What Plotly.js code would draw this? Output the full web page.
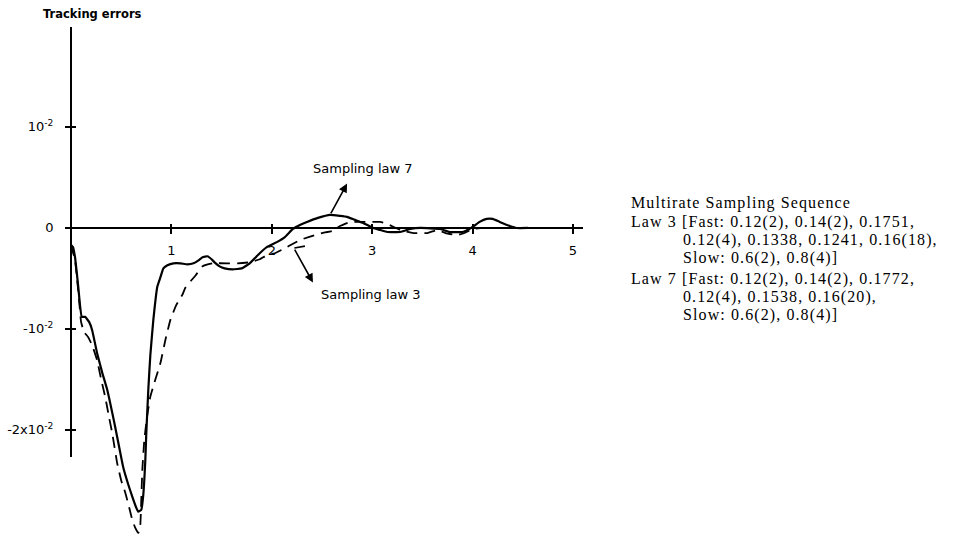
<!DOCTYPE html>
<html>
<head>
<meta charset="utf-8">
<script src="https://cdn.plot.ly/plotly-3.0.1.min.js"></script>
<style>
  html, body { margin: 0; padding: 0; background: #fff; }
  #chart { width: 954px; height: 537px; }
  .annotation-text[style*="Liberation Serif"] { letter-spacing: 1.1px; }
</style>
</head>
<body>
<div id="chart"></div>
<script>
// ---- Data ----
// Sampling law 7 (solid line): time, tracking error
const law7Time = [0, 0.02, 0.04, 0.07, 0.107, 0.14, 0.18, 0.21, 0.26, 0.31, 0.36, 0.44, 0.52, 0.57, 0.61, 0.65, 0.67, 0.70, 0.72, 0.74, 0.75, 0.77, 0.79, 0.82, 0.86, 0.89, 0.92, 0.96, 1.02, 1.09, 1.16, 1.22, 1.27, 1.31, 1.36, 1.40, 1.43, 1.48, 1.53, 1.61, 1.70, 1.78, 1.83, 1.88, 1.95, 2.05, 2.13, 2.21, 2.28, 2.35, 2.46, 2.58, 2.68, 2.75, 2.83, 2.91, 3.01, 3.08, 3.15, 3.28, 3.38, 3.48, 3.68, 3.77, 3.90, 4.00, 4.07, 4.14, 4.20, 4.27, 4.37, 4.44, 4.55];
const law7Error = [-0.0017, -0.0019, -0.0029, -0.0056, -0.0088, -0.0088, -0.0093, -0.0101, -0.0124, -0.0143, -0.0160, -0.0197, -0.0237, -0.0254, -0.0266, -0.0277, -0.0281, -0.0279, -0.0264, -0.0230, -0.0203, -0.0160, -0.0126, -0.0091, -0.0058, -0.0049, -0.0040, -0.0037, -0.0035, -0.0035, -0.0036, -0.0035, -0.0032, -0.0029, -0.0028, -0.0031, -0.0034, -0.0038, -0.0040, -0.0041, -0.0040, -0.0035, -0.0030, -0.0025, -0.0019, -0.0014, -0.0009, -0.0001, 0.0003, 0.0006, 0.0010, 0.0013, 0.0012, 0.0011, 0.0008, 0.0005, 0.0000, -0.0002, -0.0004, -0.0004, -0.0001, 0.0000, -0.0001, -0.0004, -0.0004, 0.0001, 0.0006, 0.0009, 0.0009, 0.0006, 0.0002, 0.0000, 0.0000];

// Sampling law 3 (dashed line): time, tracking error
const law3Time = [0, 0.04, 0.08, 0.10, 0.13, 0.17, 0.21, 0.26, 0.30, 0.34, 0.38, 0.41, 0.46, 0.50, 0.54, 0.58, 0.61, 0.64, 0.67, 0.69, 0.70, 0.71, 0.73, 0.76, 0.79, 0.84, 0.89, 0.94, 0.99, 1.05, 1.11, 1.14, 1.24, 1.31, 1.41, 1.56, 1.66, 1.78, 1.88, 1.95, 2.03, 2.13, 2.28, 2.43, 2.50, 2.60, 2.68, 2.78, 2.85, 3.01, 3.08, 3.15, 3.28, 3.41, 3.55, 3.65, 3.73, 3.85, 3.92, 4.00, 4.12, 4.47];
const law3Error = [-0.0017, -0.0032, -0.0071, -0.0093, -0.0103, -0.0108, -0.0116, -0.0131, -0.0150, -0.0167, -0.0188, -0.0203, -0.0233, -0.0250, -0.0262, -0.0277, -0.0289, -0.0297, -0.0302, -0.0294, -0.0269, -0.0240, -0.0210, -0.0185, -0.0167, -0.0150, -0.0134, -0.0111, -0.0091, -0.0076, -0.0066, -0.0059, -0.0047, -0.0038, -0.0035, -0.0035, -0.0035, -0.0034, -0.0031, -0.0027, -0.0025, -0.0020, -0.0012, -0.0007, -0.0005, -0.0003, 0.0002, 0.0006, 0.0006, 0.0006, 0.0006, 0.0004, -0.0002, -0.0005, -0.0005, -0.0002, -0.0005, -0.0007, -0.0005, -0.0001, 0.0000, 0.0000];

// Tick labels
const xTickVals = [1, 2, 3, 4, 5];
const xTickText = ['1', '2', '3', '4', '5'];
const yTickVals = [0.01, 0, -0.01, -0.02];
const yTickText = ['10<sup>-2</sup>', '0', '-10<sup>-2</sup>', '-2x10<sup>-2</sup>'];

// Text
const yTitle = 'Tracking errors';
const law7Label = 'Sampling law 7';
const law3Label = 'Sampling law 3';
const legendTitle = 'Multirate Sampling Sequence';
const legendLines = [
  'Law 3 [Fast: 0.12(2), 0.14(2), 0.1751,',
  '0.12(4), 0.1338, 0.1241, 0.16(18),',
  'Slow: 0.6(2), 0.8(4)]',
  'Law 7 [Fast: 0.12(2), 0.14(2), 0.1772,',
  '0.12(4), 0.1538, 0.16(20),',
  'Slow: 0.6(2), 0.8(4)]'
];

// ---- Layout geometry ----
const W = 954, H = 537;
const M = {l: 66, r: 371, t: 27, b: 0};
const PW = W - M.l - M.r, PH = H - M.t - M.b;
const xRange = [-0.05, 5.1];
const yRange = [-0.0306, 0.0199];
const y2Range = [-0.0227, 0.0199];
const px2paperX = px => (px - M.l) / PW;
const px2paperY = py => (H - M.b - py) / PH;
const zeroPos = (0 - yRange[0]) / (yRange[1] - yRange[0]);
const yAxisPos = (0 - xRange[0]) / (xRange[1] - xRange[0]);
const y2Bottom = px2paperY(457);

const sans = 'DejaVu Sans, sans-serif';
const serif = 'Liberation Serif, serif';

const traces = [
  {x: law7Time, y: law7Error, type: 'scatter', mode: 'lines', name: 'Sampling law 7',
   line: {color: '#000', width: 2.2, shape: 'spline', smoothing: 0.35}, xaxis: 'x', yaxis: 'y', hoverinfo: 'skip'},
  {x: law3Time, y: law3Error, type: 'scatter', mode: 'lines', name: 'Sampling law 3',
   line: {color: '#000', width: 1.8, dash: '11px,7px', shape: 'spline', smoothing: 0.35}, xaxis: 'x', yaxis: 'y', hoverinfo: 'skip'},
  {x: [null], y: [null], type: 'scatter', mode: 'lines', xaxis: 'x', yaxis: 'y2', hoverinfo: 'skip', showlegend: false},
  {x: [null], y: [null], type: 'scatter', mode: 'lines', xaxis: 'x', yaxis: 'y3', hoverinfo: 'skip', showlegend: false},
  {x: [null], y: [null], type: 'scatter', mode: 'lines', xaxis: 'x2', yaxis: 'y', hoverinfo: 'skip', showlegend: false}
];

const legendY = [222, 240, 258, 279, 297, 315];
const legendX = [629, 681, 681, 629, 681, 681];

const annotations = [
  {xref: 'paper', yref: 'paper', x: px2paperX(92), y: px2paperY(14), text: yTitle, showarrow: false,
   xanchor: 'center', yanchor: 'middle', font: {family: sans, size: 11.5, color: '#000', weight: 'bold'}},
  {xref: 'x', yref: 'y', x: 2.91, y: 0.0059, text: law7Label, showarrow: false,
   xanchor: 'center', yanchor: 'middle', font: {family: sans, size: 13, color: '#000'}},
  {xref: 'x', yref: 'y', x: 2.99, y: -0.0066, text: law3Label, showarrow: false,
   xanchor: 'center', yanchor: 'middle', font: {family: sans, size: 13, color: '#000'}},
  // arrow to "Sampling law 7"
  {xref: 'x', yref: 'y', axref: 'x', ayref: 'y', x: 2.75, y: 0.0044, ax: 2.58, ay: 0.0013,
   text: '', showarrow: true, arrowhead: 2, arrowsize: 1.1, arrowwidth: 1.6, arrowcolor: '#000', standoff: 0, startstandoff: 0},
  // arrow to "Sampling law 3"
  {xref: 'x', yref: 'y', axref: 'x', ayref: 'y', x: 2.41, y: -0.0054, ax: 2.22, ay: -0.0020,
   text: '', showarrow: true, arrowhead: 2, arrowsize: 1.1, arrowwidth: 1.6, arrowcolor: '#000', standoff: 0, startstandoff: 0},
  {xref: 'x', yref: 'y', axref: 'x', ayref: 'y', x: 2.33, y: -0.0018, ax: 2.21, ay: -0.0020,
   text: '', showarrow: true, arrowhead: 0, arrowwidth: 1.6, arrowcolor: '#000', standoff: 0, startstandoff: 0},
  {xref: 'paper', yref: 'paper', x: px2paperX(629), y: px2paperY(203), text: legendTitle, showarrow: false,
   xanchor: 'left', yanchor: 'middle', font: {family: serif, size: 16, color: '#000'}}
];
legendLines.forEach((t, i) => {
  annotations.push({xref: 'paper', yref: 'paper', x: px2paperX(legendX[i]), y: px2paperY(legendY[i]), text: t,
    showarrow: false, xanchor: 'left', yanchor: 'middle', font: {family: serif, size: 16, color: '#000'}});
});

const layout = {
  width: W, height: H,
  margin: M,
  paper_bgcolor: '#fff', plot_bgcolor: 'rgba(0,0,0,0)',
  showlegend: false,
  xaxis: {range: xRange, domain: [0, 1], anchor: 'free', position: zeroPos,
    showline: true, linewidth: 2, linecolor: '#000', ticks: 'outside', ticklen: 5, tickwidth: 2, tickcolor: '#000',
    tickmode: 'array', tickvals: xTickVals, ticktext: xTickText, ticklabelstandoff: 5,
    tickfont: {family: sans, size: 13, color: '#000'}, showgrid: false, zeroline: false, fixedrange: true},
  xaxis2: {range: xRange, overlaying: 'x', anchor: 'free', position: zeroPos,
    showline: false, ticks: 'inside', ticklen: 4, tickwidth: 2, tickcolor: '#000',
    tickmode: 'array', tickvals: xTickVals, showticklabels: false, showgrid: false, zeroline: false},
  yaxis: {range: yRange, domain: [0, 1], visible: false, showgrid: false, zeroline: false, fixedrange: true},
  yaxis2: {range: y2Range, domain: [y2Bottom, 1], anchor: 'free', position: yAxisPos,
    showline: true, linewidth: 2, linecolor: '#000', ticks: 'outside', ticklen: 5, tickwidth: 2, tickcolor: '#000',
    tickmode: 'array', tickvals: yTickVals, ticktext: yTickText, ticklabelstandoff: 9,
    tickfont: {family: sans, size: 13, color: '#000'}, showgrid: false, zeroline: false},
  yaxis3: {range: y2Range, overlaying: 'y2', anchor: 'free', position: yAxisPos,
    showline: false, ticks: 'inside', ticklen: 4, tickwidth: 2, tickcolor: '#000',
    tickmode: 'array', tickvals: yTickVals, showticklabels: false, showgrid: false, zeroline: false},
  annotations: annotations
};

Plotly.newPlot('chart', traces, layout, {displayModeBar: false, staticPlot: true});
</script>
</body>
</html>
